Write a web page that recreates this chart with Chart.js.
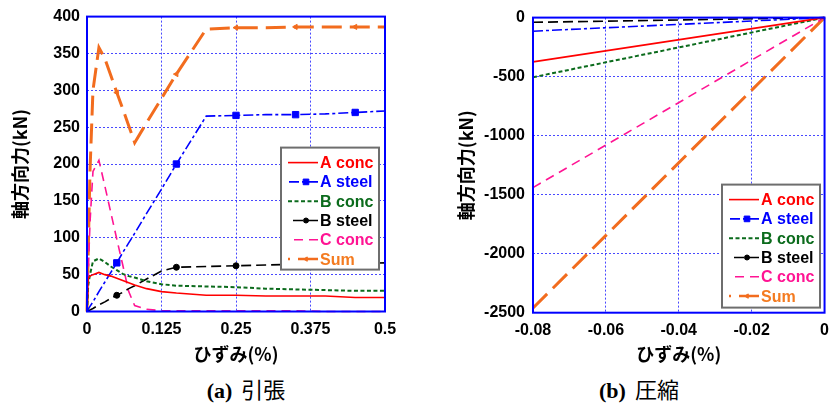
<!DOCTYPE html>
<html>
<head>
<meta charset="utf-8">
<script src="https://cdn.jsdelivr.net/npm/chart.js@4.4.0/dist/chart.umd.min.js"></script>
<style>
  body { margin: 0; background: #fff; width: 837px; height: 410px; position: relative; overflow: hidden; }
  canvas { position: absolute; top: 0; }
  #chartA { left: 0; }
  #chartB { left: 420px; }
  .cap { position: absolute; top: 375px; font-size: 22px; line-height: 26px; white-space: nowrap; transform: translateX(-50%); }
  .cap b { font-family: "Liberation Serif", serif; font-weight: bold; }
  .cap span { font-family: "Noto Sans CJK JP", sans-serif; font-weight: 400; margin-left: 9px; }
</style>
</head>
<body>
<canvas id="chartA" width="420" height="370"></canvas>
<canvas id="chartB" width="417" height="370"></canvas>
<div class="cap" style="left:246px"><b>(a)</b><span>引張</span></div>
<div class="cap" style="left:639px"><b>(b)</b><span>圧縮</span></div>
<script>
const seriesNames = ["A conc", "A steel", "B conc", "B steel", "C conc", "Sum"];

// (a) 引張
const strainT = [0, 0.002, 0.005, 0.01, 0.02, 0.03, 0.04, 0.05, 0.06, 0.07, 0.08, 0.1, 0.125, 0.15, 0.2, 0.25, 0.3, 0.35, 0.4, 0.45, 0.5];
const aConcT  = [0, 45, 48, 50, 53, 50, 48, 45, 42, 39, 36, 31, 27, 25, 22, 22, 21, 21, 21, 19, 19];
const aSteelT = [0, 3, 7, 13, 27, 40, 53, 66, 80, 93, 106, 133, 166, 200, 265, 266, 267, 267, 268, 270, 272];
const bConcT  = [0, 35, 50, 68, 72, 67, 61, 56, 51, 48, 46, 41, 37, 35, 34, 33, 31, 30, 29, 28, 28];
const bSteelT = [0, 1, 2, 4, 9, 13, 18, 22, 26, 31, 35, 44, 55, 60, 61, 62, 63, 64, 64, 65, 66];
const cConcT  = [0, 50, 120, 190, 205, 170, 134, 98, 63, 27, 8, 3, 1, 1, 1, 1, 1, 1, 0, 0, 0];
const sumT    = [0, 80, 190, 300, 358, 343, 320, 297, 275, 252, 229, 256, 289, 322, 383, 385, 385, 386, 386, 386, 386];
const markerStrains = [0.05, 0.15, 0.25, 0.35, 0.45];
const xTicksA = [0, 0.125, 0.25, 0.375, 0.5];
const yTicksA = [0, 50, 100, 150, 200, 250, 300, 350, 400];

// (b) 圧縮
const strainC = [-0.08, 0];
const aConcC  = [-375, 0];
const aSteelC = [-115, 0];
const bConcC  = [-505, 0];
const bSteelC = [-40, 0];
const cConcC  = [-1440, 0];
const sumC    = [-2460, 0];
const xTicksB = [-0.08, -0.06, -0.04, -0.02, 0];
const yTicksB = [-2500, -2000, -1500, -1000, -500, 0];

// series styles
const lineColors = ["#FF0000", "#0000FF", "#0B6B1C", "#000000", "#FF1493", "#F26C1E"];
const textColors = ["#FF0000", "#0000FF", "#0B6B1C", "#000000", "#FF1493", "#F47B20"];
const lineWidths = [1.6, 1.6, 2, 1.6, 1.6, 3];
const lineDashes = [[], [10, 3, 3, 3], [4, 2.5], [10, 5], [9, 6], [20, 8]];
const markStyles = [false, "rect", false, "circle", false, "triangle"];
const markRadius = [0, 4.5, 0, 3, 0, 3];
const markRotate = [0, 0, 0, 0, 0, -90];

Chart.defaults.font.family = "'Liberation Sans', Arial, sans-serif";
Chart.defaults.font.size = 16;
Chart.defaults.font.weight = "bold";
Chart.defaults.color = "#000";

function makeSets(strain, seriesValues, withMarkers) {
  return seriesValues.map((vals, i) => ({
    label: seriesNames[i],
    data: strain.map((x, k) => ({ x: x, y: vals[k] })),
    borderColor: lineColors[i],
    backgroundColor: lineColors[i],
    borderWidth: lineWidths[i],
    borderDash: lineDashes[i],
    pointStyle: markStyles[i] || "circle",
    pointRotation: markRotate[i],
    pointBorderWidth: 1,
    pointRadius: ctx => (withMarkers && markStyles[i] && markerStrains.includes(strain[ctx.dataIndex])) ? markRadius[i] : 0,
    pointHoverRadius: 0,
    tension: 0,
    fill: false,
    clip: 4
  }));
}

// blue frame round the plot area
const framePlugin = {
  id: "frame",
  afterDatasetsDraw(chart) {
    const { ctx, chartArea: a } = chart;
    ctx.save();
    ctx.strokeStyle = "#0000FF";
    ctx.lineWidth = 2;
    ctx.setLineDash([]);
    ctx.strokeRect(a.left, a.top, a.right - a.left, a.bottom - a.top);
    ctx.restore();
  }
};

// boxed legend inside the plot
const boxLegend = {
  id: "boxLegend",
  afterDraw(chart, args, opts) {
    const { ctx, chartArea: a } = chart;
    const x0 = a.left + opts.dx, y0 = a.top + opts.dy;
    ctx.save();
    ctx.fillStyle = "#fff";
    ctx.fillRect(x0, y0, opts.w, opts.h);
    ctx.strokeStyle = "#6E6E6E";
    ctx.lineWidth = 2;
    ctx.strokeRect(x0, y0, opts.w, opts.h);
    chart.data.datasets.forEach((ds, i) => {
      const y = y0 + 15 + i * 19.3;
      const xs = x0 + 7, xe = x0 + 37;
      ctx.strokeStyle = ds.borderColor;
      ctx.lineWidth = Math.min(ds.borderWidth, 2.5);
      ctx.setLineDash(ds.borderDash);
      ctx.beginPath();
      ctx.moveTo(xe, y);
      ctx.lineTo(xs, y);
      ctx.stroke();
      ctx.setLineDash([]);
      if (markStyles[i]) {
        ctx.fillStyle = ds.borderColor;
        ctx.strokeStyle = ds.borderColor;
        ctx.lineWidth = 1;
        Chart.helpers.drawPoint(ctx, { pointStyle: markStyles[i], radius: markRadius[i] - 0.5, rotation: markRotate[i], borderWidth: 1 }, xs + 18, y);
      }
      ctx.fillStyle = textColors[i];
      ctx.font = "bold 16px 'Liberation Sans', Arial, sans-serif";
      ctx.textBaseline = "middle";
      ctx.textAlign = "left";
      ctx.fillText(ds.label, x0 + 39, y + 1);
    });
    ctx.restore();
  }
};

function makeChart(id, sets, xr, yr, xTicks, yTicks, lay) {
  const gridColor = c => (c.tick && (c.tick.value === c.scale.min || c.tick.value === c.scale.max)) ? "rgba(0,0,0,0)" : "rgba(40,40,255,0.85)";
  return new Chart(document.getElementById(id), {
    type: "line",
    data: { datasets: sets },
    plugins: [framePlugin, boxLegend],
    options: {
      responsive: false,
      animation: false,
      events: [],
      layout: { padding: { left: 0, right: lay.padRight, top: lay.padTop, bottom: 0 } },
      plugins: {
        legend: { display: false },
        tooltip: { enabled: false },
        boxLegend: lay.legend
      },
      scales: {
        x: {
          type: "linear",
          min: xr[0], max: xr[1],
          afterBuildTicks: s => { s.ticks = xTicks.map(v => ({ value: v })); },
          afterFit: s => { s.height = lay.xHeight; },
          ticks: { callback: v => String(v), padding: 8, maxRotation: 0, autoSkip: false },
          grid: { color: gridColor, lineWidth: 1, drawTicks: false },
          border: { display: false, dash: [2, 2] },
          title: {
            display: true, text: "ひずみ(%)",
            font: { family: "'Noto Sans CJK JP', sans-serif", size: 18, weight: "bold" },
            padding: { top: 0, bottom: 5 }
          }
        },
        y: {
          type: "linear",
          min: yr[0], max: yr[1],
          afterBuildTicks: s => { s.ticks = yTicks.map(v => ({ value: v })); },
          afterFit: s => { s.width = lay.yWidth; },
          ticks: { callback: v => String(v), padding: lay.yTickPad, autoSkip: false },
          grid: { color: gridColor, lineWidth: 1, drawTicks: false },
          border: { display: false, dash: [2, 2] },
          title: {
            display: true, text: "軸方向力(kN)",
            font: { family: "'Noto Sans CJK JP', sans-serif", size: 18, weight: "bold" },
            padding: { top: lay.yTitlePad, bottom: 0 }
          }
        }
      }
    }
  });
}

makeChart("chartA",
  makeSets(strainT, [aConcT, aSteelT, bConcT, bSteelT, cConcT, sumT], true),
  [0, 0.5], [0, 400], xTicksA, yTicksA,
  { padRight: 35, padTop: 14, xHeight: 58.5, yWidth: 87, yTickPad: 7, yTitlePad: 9,
    legend: { dx: 194, dy: 131, w: 98, h: 122 } });

makeChart("chartB",
  makeSets(strainC, [aConcC, aSteelC, bConcC, bSteelC, cConcC, sumC], false),
  [-0.08, 0], [-2500, 0], xTicksB, yTicksB,
  { padRight: 6.3, padTop: 14.7, xHeight: 57.3, yWidth: 113, yTickPad: 8, yTitlePad: 35,
    legend: { dx: 189, dy: 167, w: 98, h: 123 } });
</script>
</body>
</html>
